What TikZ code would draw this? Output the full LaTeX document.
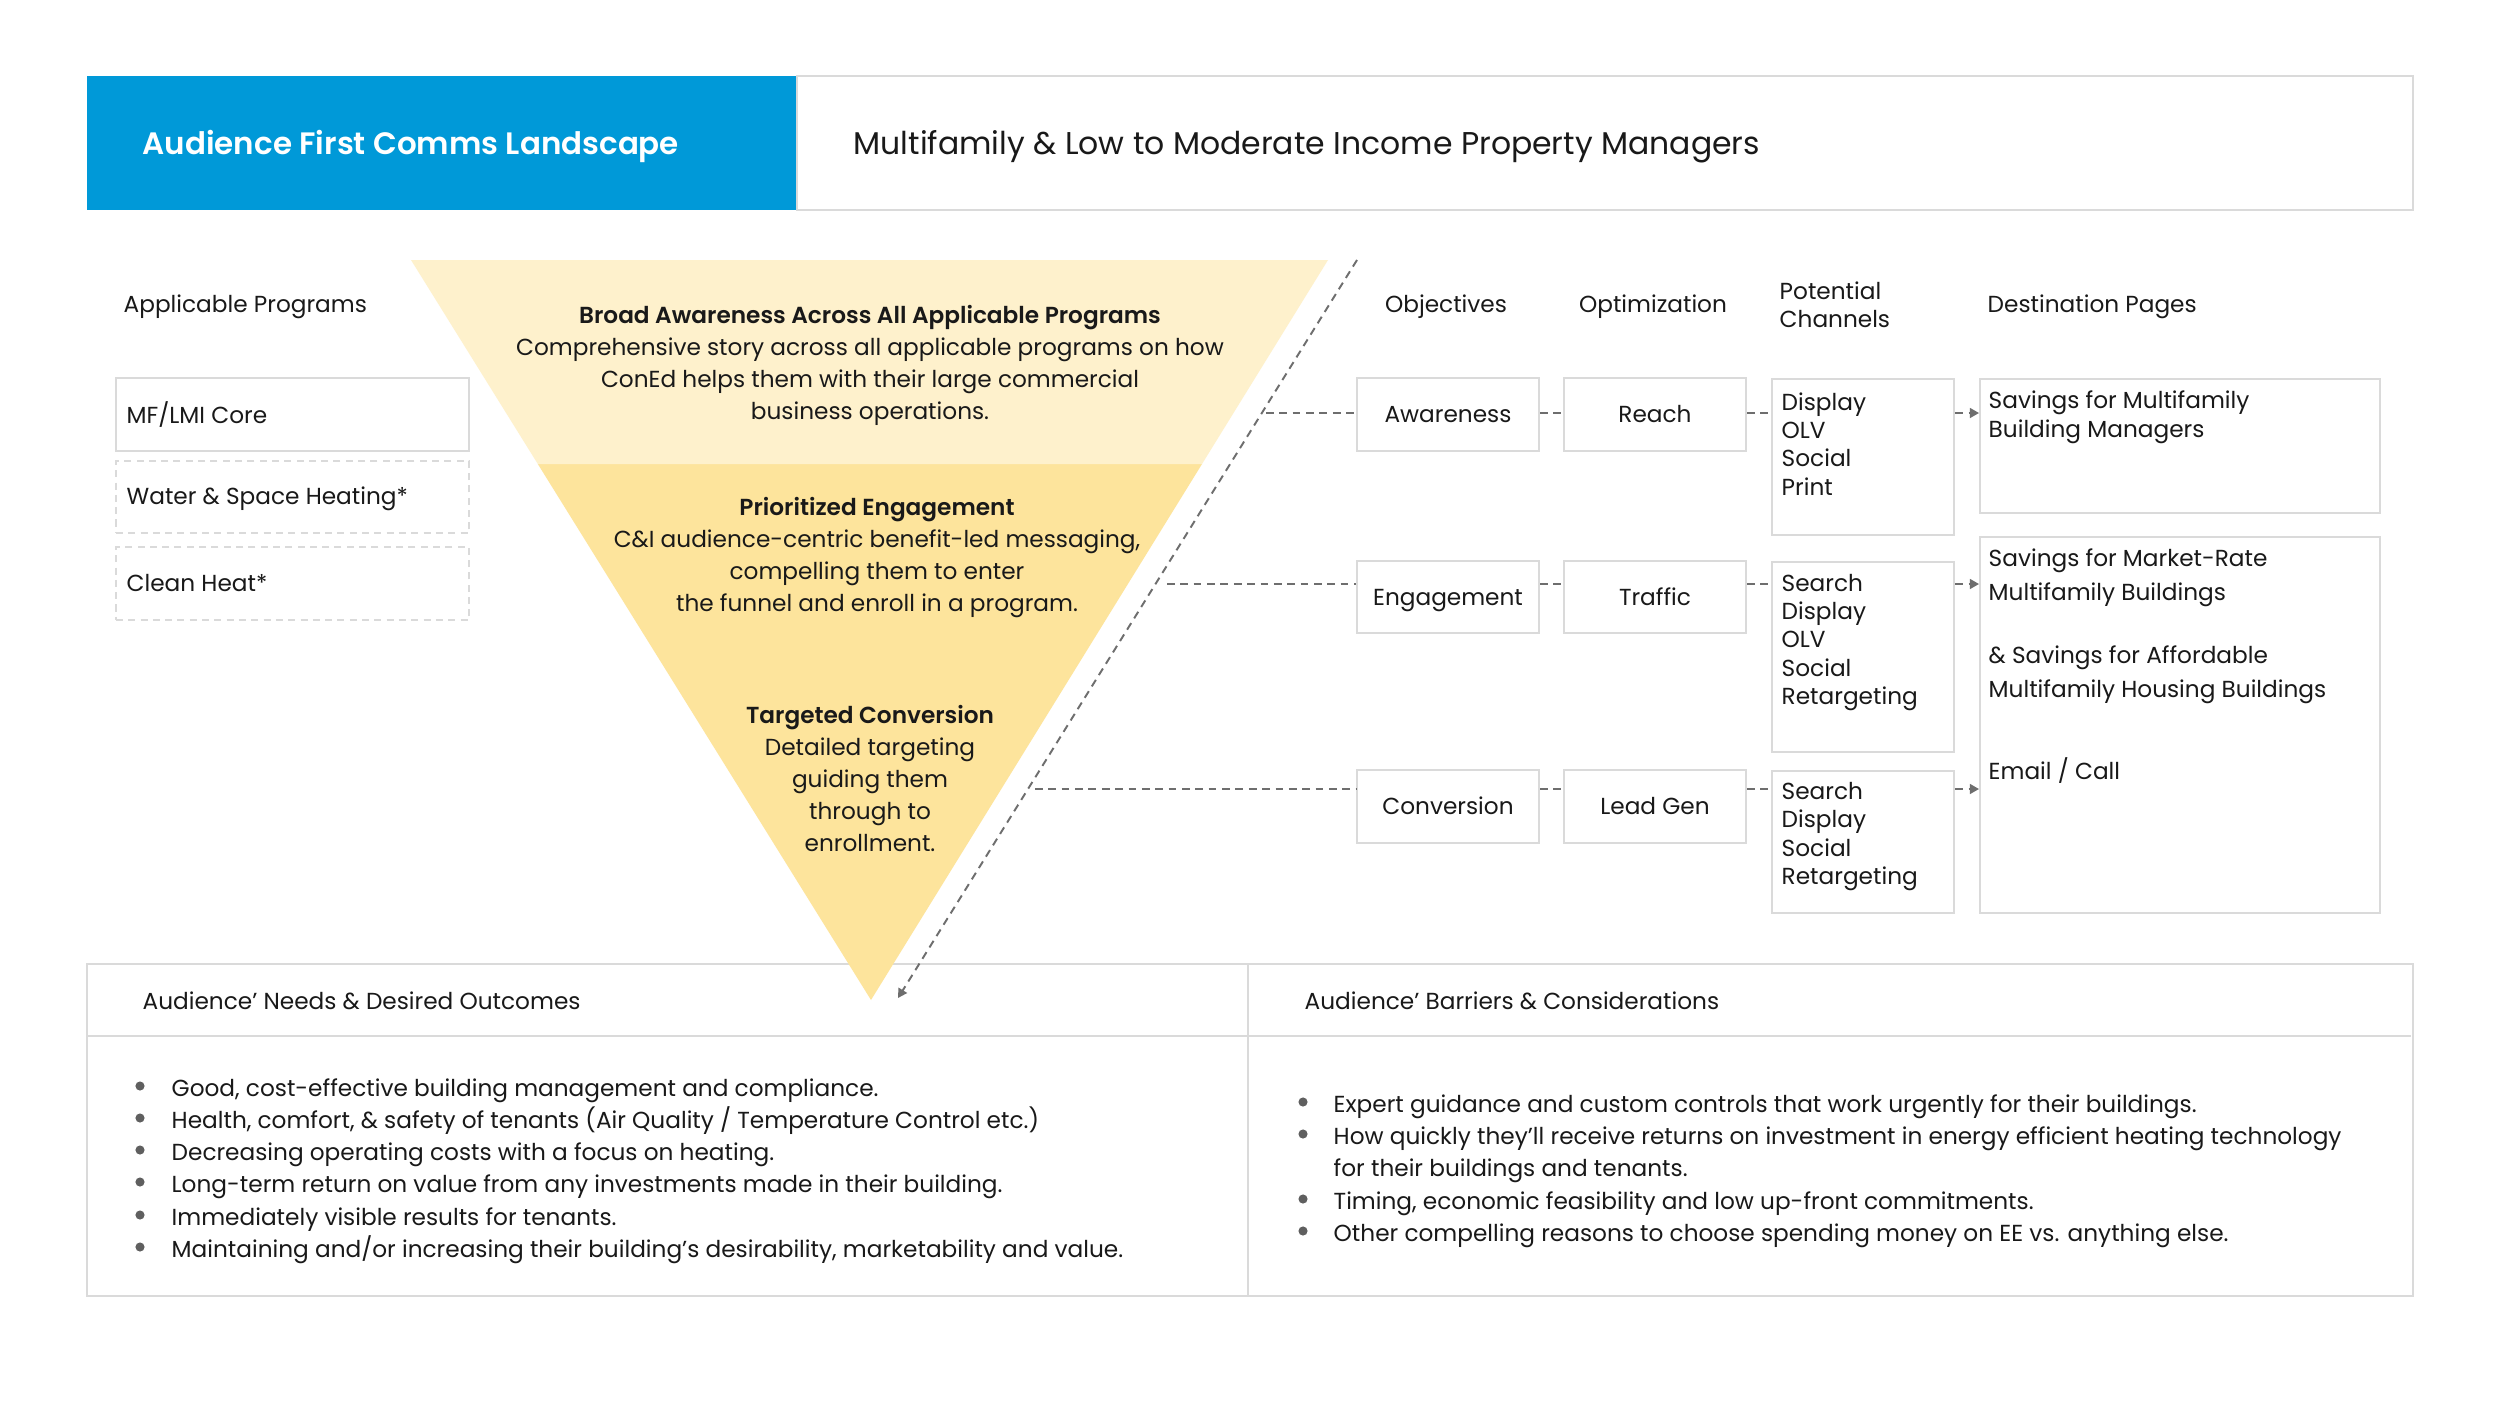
\documentclass[tikz,border=0pt]{standalone}
\usepackage{fontspec}
\setmainfont{Poppins}[BoldFont={Poppins SemiBold}]
\usetikzlibrary{arrows.meta,calc}
\definecolor{hblue}{RGB}{0,153,216}
\definecolor{bgray}{RGB}{218,218,218}
\definecolor{cgray}{RGB}{110,110,110}
\definecolor{bulgray}{RGB}{95,95,95}
\definecolor{flight}{RGB}{254,241,204}
\definecolor{fdark}{RGB}{253,228,156}
\definecolor{tblack}{RGB}{25,25,25}
\newcommand{\bodyfs}{\fontsize{6.6}{9.1}\selectfont}
\begin{document}
\begin{tikzpicture}[x=0.01cm,y=-0.01cm,
  txt/.style={font=\bodyfs, text=tblack, inner sep=0pt},
  ml/.style={txt, yshift=-0.85pt},
  box/.style={draw=bgray, line width=0.6pt, fill=white, inner sep=0pt},
  dbox/.style={box, dashed, dash pattern=on 2pt off 1.5pt},
  conn/.style={draw=cgray, line width=0.55pt, dash pattern=on 2.2pt off 1.6pt},
  arr/.style={conn, -{Triangle[length=2.6pt,width=2.8pt]}},
  bul/.style={fill=bulgray}]
\useasboundingbox[fill=white] (0,0) rectangle (2500,1406);

% header
\node[fill=hblue, minimum width=7.10cm, minimum height=1.34cm, anchor=north west, inner sep=0pt] (hb) at (86,75) {};
\node[box, minimum width=16.15cm, minimum height=1.34cm, anchor=north west] (hw) at (796,75) {};
\node[txt, anchor=mid west, text=white, font=\fontsize{8.8}{10}\selectfont\bfseries] (ht) at (142,145) {Audience First Comms Landscape};
\node[txt, anchor=mid west, font=\fontsize{8.95}{10}\selectfont] (hs) at (853,145) {Multifamily \& Low to Moderate Income Property Managers};

% bottom table
\node[box, minimum width=23.25cm, minimum height=3.32cm, anchor=north west] (tb) at (86,963) {};
\coordinate (hl) at (86,1036);
\coordinate (hr) at (2411,1036);
\draw[bgray, line width=0.6pt] (hl) -- (hr);
\coordinate (vt) at (1248,963);
\coordinate (vb) at (1248,1295);
\draw[bgray, line width=0.6pt] (vt) -- (vb);
\node[txt, anchor=mid west] (nh) at (142,1000) {Audience’ Needs \& Desired Outcomes};
\node[txt, anchor=mid west] (bh) at (1304,1000) {Audience’ Barriers \& Considerations};

\foreach \yy/\tt [count=\i] in {1086/{Good, cost-effective building management and compliance.},
  1118/{Health, comfort, \& safety of tenants (Air Quality / Temperature Control etc.)},
  1150/{Decreasing operating costs with a focus on heating.},
  1182/{Long-term return on value from any investments made in their building.},
  1215/{Immediately visible results for tenants.},
  1247/{Maintaining and/or increasing their building’s desirability, marketability and value.}}{
  \fill[bul] (140,\yy) circle[radius=1.3pt];
  \node[txt, anchor=mid west] (nb\i) at (171,\yy+1) {\tt};
}
\fill[bul] (1303,1102) circle[radius=1.3pt];
\node[txt, anchor=mid west] (bb1) at (1333,1103) {Expert guidance and custom controls that work urgently for their buildings.};
\fill[bul] (1303,1134) circle[radius=1.3pt];
\node[ml, anchor=west, align=left] (bb2) at (1333,1152) {How quickly they’ll receive returns on investment in energy efficient heating technology\\for their buildings and tenants.};
\fill[bul] (1303,1199) circle[radius=1.3pt];
\node[txt, anchor=mid west] (bb3) at (1333,1200) {Timing, economic feasibility and low up-front commitments.};
\fill[bul] (1303,1231) circle[radius=1.3pt];
\node[txt, anchor=mid west] (bb4) at (1333,1232) {Other compelling reasons to choose spending money on EE vs. anything else.};

% funnel
\coordinate (TL) at (411,260);
\coordinate (TR) at (1328,260);
\coordinate (AP) at (871,1000);
\coordinate (ML) at ($(TL)!0.2757!(AP)$);
\coordinate (MR) at ($(TR)!0.2757!(AP)$);
\fill[fdark] (ML) -- (MR) -- (AP) -- cycle;
\fill[flight] (TL) -- (TR) -- (MR) -- (ML) -- cycle;

\node[ml, align=center] (f1) at (870,362) {\textbf{Broad Awareness Across All Applicable Programs}\\Comprehensive story across all applicable programs on how\\ConEd helps them with their large commercial\\business operations.};
\node[ml, align=center] (f2) at (877,555) {\textbf{Prioritized Engagement}\\C\&I audience-centric benefit-led messaging,\\compelling them to enter\\the funnel and enroll in a program.};
\node[ml, align=center] (f3) at (870,776) {\textbf{Targeted Conversion}\\Detailed targeting\\guiding them\\through to\\enrollment.};

\coordinate (dS) at (1357,260);
\coordinate (dE) at (898,998);
\draw[arr] (dS) -- (dE);

% left programs
\node[txt, anchor=mid west] (ap) at (123,303) {Applicable Programs};
\node[box, minimum width=3.53cm, minimum height=0.73cm] (p1) at (292.5,414.5) {};
\node[dbox, minimum width=3.53cm, minimum height=0.72cm] (p2) at (292.5,497) {};
\node[dbox, minimum width=3.53cm, minimum height=0.73cm] (p3) at (292.5,583.5) {};
\node[txt, anchor=mid west] (p1t) at (126,413.5) {MF/LMI Core};
\node[txt, anchor=mid west] (p2t) at (126,495) {Water \& Space Heating*};
\node[txt, anchor=mid west] (p3t) at (126,582) {Clean Heat*};

% column headers
\node[txt, anchor=mid] (h1) at (1446,303) {Objectives};
\node[txt, anchor=mid] (h2) at (1653,303) {Optimization};
\node[ml, anchor=west, align=left, font=\fontsize{6.6}{8}\selectfont] (h3) at (1779,302) {Potential\\Channels};
\node[txt, anchor=mid west] (h4) at (1987,303) {Destination Pages};

% objective / optimization boxes
\node[box, minimum width=1.82cm, minimum height=0.73cm] (o1) at (1448,414.5) {};
\node[box, minimum width=1.82cm, minimum height=0.72cm] (o2) at (1448,597) {};
\node[box, minimum width=1.82cm, minimum height=0.73cm] (o3) at (1448,806.5) {};
\node[txt, anchor=mid] at ($(o1)+(0,-2)$) {Awareness};
\node[txt, anchor=mid] at ($(o2)+(0,-1)$) {Engagement};
\node[txt, anchor=mid] at ($(o3)+(0,-2)$) {Conversion};
\node[box, minimum width=1.82cm, minimum height=0.73cm] (q1) at (1655,414.5) {};
\node[box, minimum width=1.82cm, minimum height=0.72cm] (q2) at (1655,597) {};
\node[box, minimum width=1.82cm, minimum height=0.73cm] (q3) at (1655,806.5) {};
\node[txt, anchor=mid] at ($(q1)+(0,-2)$) {Reach};
\node[txt, anchor=mid] at ($(q2)+(0,-1)$) {Traffic};
\node[txt, anchor=mid] at ($(q3)+(0,-2)$) {Lead Gen};

% channels
\node[box, minimum width=1.82cm, minimum height=1.56cm, anchor=north west] (c1) at (1771,378) {};
\node[box, minimum width=1.82cm, minimum height=1.90cm, anchor=north west] (c2) at (1771,561) {};
\node[box, minimum width=1.82cm, minimum height=1.42cm, anchor=north west] (c3) at (1771,770) {};
\node[ml, anchor=west, align=left, font=\fontsize{6.6}{8.05}\selectfont] (c1t) at (1781,441) {Display\\OLV\\Social\\Print};
\node[ml, anchor=west, align=left, font=\fontsize{6.6}{8.05}\selectfont] (c2t) at (1781,639.5) {Search\\Display\\OLV\\Social\\Retargeting};
\node[ml, anchor=west, align=left, font=\fontsize{6.6}{8.05}\selectfont] (c3t) at (1781,833.5) {Search\\Display\\Social\\Retargeting};

% destinations
\node[box, minimum width=4.00cm, minimum height=1.34cm, anchor=north west] (d1) at (1979,378) {};
\node[box, minimum width=4.00cm, minimum height=3.76cm, anchor=north west] (d2) at (1979,536) {};
\node[ml, anchor=west, align=left, font=\fontsize{6.6}{8.2}\selectfont] (d1t) at (1988,414.5) {Savings for Multifamily\\Building Managers};
\node[ml, anchor=west, align=left, font=\fontsize{6.6}{9.6}\selectfont] (d2a) at (1988,575) {Savings for Market-Rate\\Multifamily Buildings};
\node[ml, anchor=west, align=left, font=\fontsize{6.6}{9.6}\selectfont] (d2b) at (1988,672) {\& Savings for Affordable\\Multifamily Housing Buildings};
\node[txt, anchor=mid west] (d2c) at (1988,770) {Email / Call};

% connectors
\coordinate (r1) at (1266,413);
\coordinate (r2) at (1167,584);
\coordinate (r3) at (1035,789);
\draw[conn] (r1) -- (r1 -| o1.west);
\draw[conn] (r1 -| o1.east) -- (r1 -| q1.west);
\draw[conn] (r1 -| q1.east) -- (r1 -| c1.west);
\draw[arr] (r1 -| c1.east) -- (r1 -| d1.west);
\draw[conn] (r2) -- (r2 -| o2.west);
\draw[conn] (r2 -| o2.east) -- (r2 -| q2.west);
\draw[conn] (r2 -| q2.east) -- (r2 -| c2.west);
\draw[arr] (r2 -| c2.east) -- (r2 -| d2.west);
\draw[conn] (r3) -- (r3 -| o3.west);
\draw[conn] (r3 -| o3.east) -- (r3 -| q3.west);
\draw[conn] (r3 -| q3.east) -- (r3 -| c3.west);
\draw[arr] (r3 -| c3.east) -- (r3 -| d2.west);
\end{tikzpicture}
\end{document}
